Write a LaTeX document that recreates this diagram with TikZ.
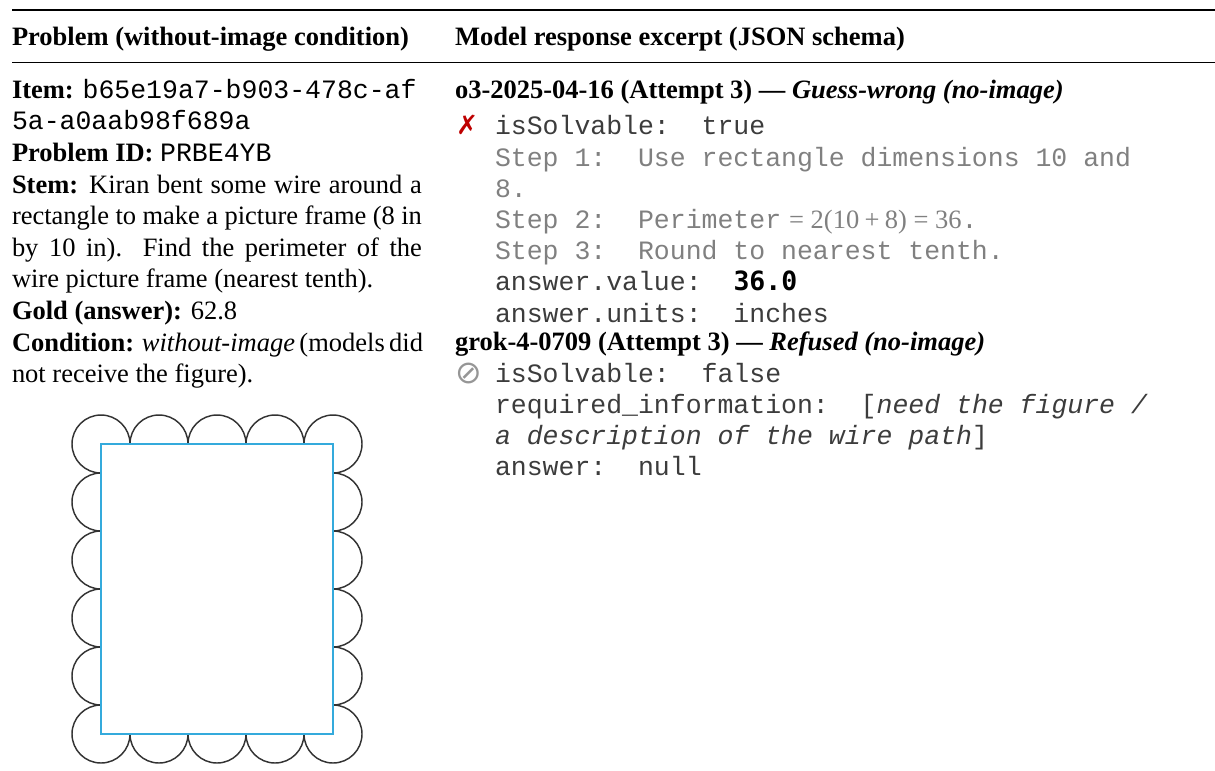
\documentclass[tikz,border=0pt]{standalone}
\usepackage{fontspec}
\setmainfont{Liberation Serif}
\setmonofont{Liberation Mono}
\newfontfamily\symfont{DejaVu Sans}
\newfontfamily\valfont{DejaVu Sans Mono}
\definecolor{stepgray}{RGB}{128,128,128}
\definecolor{keygray}{RGB}{60,60,60}
\definecolor{crossred}{RGB}{190,0,0}
\definecolor{nullgray}{RGB}{150,150,150}
\definecolor{framecyan}{RGB}{52,170,220}
\definecolor{wiregray}{RGB}{50,50,50}
\tikzset{
  txt/.style={inner sep=0pt, outer sep=0pt, anchor=base west, font=\fontsize{10}{12}\selectfont},
  steptxt/.style={txt, text=stepgray},
  keytxt/.style={txt, text=keygray},
  wire/.style={draw=wiregray, line width=0.55pt},
  framerect/.style={draw=framecyan, line width=0.8pt},
}
\begin{document}
\begin{tikzpicture}[x=0.3774pt, y=0.3774pt]
\useasboundingbox (0,0) rectangle (1215,-770);

% rules of the table
\draw[line width=0.8pt] (12,-10) -- (1215,-10);
\draw[line width=0.5pt] (12,-62.3) -- (1215,-62.3);

% column heads
\node[txt] (headL) at (12,-45.7) {\bfseries Problem (without-image condition)};
\node[txt] (headR) at (455,-45.7) {\bfseries Model response excerpt (JSON schema)};

% left column: the problem
\node[txt] (item1) at (12,-98.3) {\textbf{Item:} \texttt{b65e19a7-b903-478c-af}};
\node[txt] (item2) at (12,-129.9) {\texttt{5a-a0aab98f689a}};
\node[txt] (pid) at (12,-161.5) {\textbf{Problem ID:} \texttt{PRBE4YB}};
\node[txt] (stem1) at (12,-193.1) {\hbox to 154.7pt{\textbf{Stem:} Kiran bent some wire around a}};
\node[txt] (stem2) at (12,-224.7) {\hbox to 154.7pt{rectangle to make a picture frame (8 in}};
\node[txt] (stem3) at (12,-256.3) {\hbox to 154.7pt{by 10 in). Find the perimeter of the}};
\node[txt] (stem4) at (12,-287.9) {wire picture frame (nearest tenth).};
\node[txt] (gold) at (12,-319.5) {\textbf{Gold (answer):} 62.8};
\node[txt] (cond1) at (12,-351.1) {\hbox to 154.7pt{\textbf{Condition:} \textit{without-image} (models did}};
\node[txt] (cond2) at (12,-382.7) {not receive the figure).};

% the scalloped wire frame: circles of radius 29 centred on the rectangle's edge
\foreach \k in {1,2,3} {
  \draw[wire] ({101+58*\k+29},-444) arc[start angle=0, end angle=180, radius=29];
  \draw[wire] ({101+58*\k-29},-734) arc[start angle=180, end angle=360, radius=29];
}
\foreach \k in {1,2,3,4} {
  \draw[wire] (101,{-444-58*\k+29}) arc[start angle=90, end angle=270, radius=29];
  \draw[wire] (333,{-444-58*\k-29}) arc[start angle=-90, end angle=90, radius=29];
}
\draw[wire] (130,-444) arc[start angle=0, end angle=270, radius=29];
\draw[wire] (333,-473) arc[start angle=-90, end angle=180, radius=29];
\draw[wire] (304,-734) arc[start angle=180, end angle=450, radius=29];
\draw[wire] (101,-705) arc[start angle=90, end angle=360, radius=29];
\draw[framerect] (101,-444) rectangle (333,-734);

% right column: model responses
\node[txt] (o3head) at (455,-98.3) {\bfseries o3-2025-04-16 (Attempt 3) --- \textit{Guess-wrong (no-image)}};
\node[txt, text=crossred] (cross) at (456,-134) {\symfont\bfseries ✗};
\node[keytxt] (o3solv) at (495,-134) {\texttt{isSolvable:\ \ true}};
\node[steptxt] (o3s1) at (495,-166) {\texttt{Step 1:\ \ Use rectangle dimensions 10 and}};
\node[steptxt] (o3s1b) at (495,-197) {\texttt{8.}};
\node[steptxt] (o3s2) at (495,-228) {\texttt{Step 2:\ \ Perimeter}\hspace{0.3em}=\hspace{0.25em}2(10\hspace{0.2em}+\hspace{0.2em}8)\hspace{0.25em}=\hspace{0.25em}36\texttt{.}};
\node[steptxt] (o3s3) at (495,-259) {\texttt{Step 3:\ \ Round to nearest tenth.}};
\node[keytxt] (o3val) at (495,-290) {\texttt{answer.value:\ \ }{\valfont\bfseries\color{black}36.0}};
\node[keytxt] (o3unit) at (495,-322) {\texttt{answer.units:\ \ inches}};

\node[txt] (grokhead) at (455,-350) {\bfseries grok-4-0709 (Attempt 3) --- \textit{Refused (no-image)}};
\node[txt, text=nullgray] (nullsym) at (455,-383) {\fontsize{12}{12}\selectfont\symfont ⊘};
\node[keytxt] (groksolv) at (495,-382) {\texttt{isSolvable:\ \ false}};
\node[keytxt] (grokreq1) at (495,-413) {\texttt{required\_information:\ \ [\textit{need the figure /}}};
\node[keytxt] (grokreq2) at (495,-444) {\texttt{\textit{a description of the wire path}]}};
\node[keytxt] (grokans) at (495,-475) {\texttt{answer:\ \ null}};
\end{tikzpicture}
\end{document}
